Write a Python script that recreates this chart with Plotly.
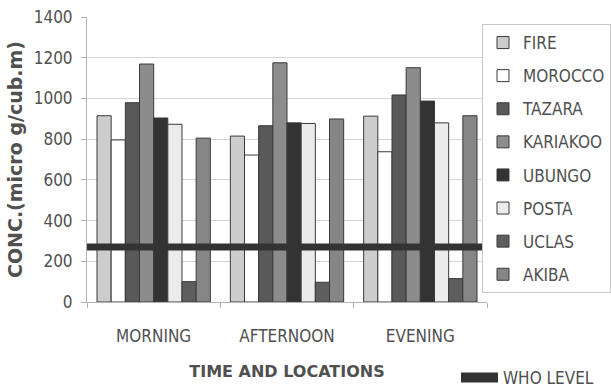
import plotly.graph_objects as go

# Time periods (x categories)
periods = ["MORNING", "AFTERNOON", "EVENING"]

# Concentration per location for MORNING, AFTERNOON, EVENING
fire = [915, 815, 913]
morocco = [796, 722, 738]
tazara = [979, 866, 1017]
kariakoo = [1169, 1175, 1151]
ubungo = [904, 880, 987]
posta = [873, 877, 880]
uclas = [100, 97, 115]
akiba = [805, 899, 915]

who_level = 270

y_ticks = [0, 200, 400, 600, 800, 1000, 1200, 1400]

series = [
    ("FIRE", fire, "#cdcdcd"),
    ("MOROCCO", morocco, "#ffffff"),
    ("TAZARA", tazara, "#595959"),
    ("KARIAKOO", kariakoo, "#8c8c8c"),
    ("UBUNGO", ubungo, "#333333"),
    ("POSTA", posta, "#ebebeb"),
    ("UCLAS", uclas, "#5e5e5e"),
    ("AKIBA", akiba, "#868686"),
]

TEXT = "#505050"
FONT = "DejaVu Sans Condensed"
BOLD = "DejaVu Sans"

W, H = 611, 392
ML, MR, MT, MB = 87, 124, 17, 90
PW, PH = W - ML - MR, H - MT - MB


def px_x(x):
    return (x - ML) / PW


def px_y(y):
    return 1 - (y - MT) / PH


fig = go.Figure()
for name, vals, col in series:
    fig.add_trace(go.Bar(
        x=periods, y=vals, name=name, legendgroup=name,
        marker=dict(color=col, line=dict(color="#3a3a3a", width=1)),
        legend="legend",
    ))

# WHO guideline drawn across the whole plot on a hidden numeric axis
fig.add_trace(go.Scatter(
    x=[0, 1], y=[who_level, who_level], mode="lines",
    line=dict(color="#333333", width=7),
    xaxis="x2", showlegend=False, hoverinfo="skip",
))
# Legend entry for the WHO level
fig.add_trace(go.Scatter(
    x=[None], y=[None], mode="lines", name="WHO LEVEL",
    line=dict(color="#333333", width=12),
    xaxis="x2", legend="legend2",
))

fig.update_layout(
    width=W, height=H,
    margin=dict(l=ML, r=MR, t=MT, b=MB, autoexpand=False),
    paper_bgcolor="white", plot_bgcolor="white",
    font=dict(family=FONT, color=TEXT, size=16),
    barmode="group", bargap=0.15, bargroupgap=0,
    showlegend=True,
    xaxis=dict(
        type="category", showgrid=False,
        showline=True, linecolor="#b4b4b4",
        ticks="outside", tickson="boundaries", ticklen=5, tickcolor="#b4b4b4",
        tickfont=dict(family=FONT, size=17, color=TEXT),
        ticklabelstandoff=19,
        title=dict(text="<b>TIME AND LOCATIONS</b>",
                   font=dict(family=BOLD, size=16, color=TEXT), standoff=20),
    ),
    xaxis2=dict(range=[0, 1], overlaying="x", visible=False, fixedrange=True),
    yaxis=dict(
        range=[0, 1400], tickvals=y_ticks,
        showgrid=True, gridcolor="#d4d4d4", gridwidth=1,
        showline=True, linecolor="#b4b4b4",
        ticks="outside", ticklen=5, tickcolor="#b4b4b4",
        tickfont=dict(family=FONT, size=17, color=TEXT),
        ticklabelstandoff=5,
        zeroline=False,
        title=dict(text="<b>CONC.(micro g/cub.m)</b>",
                   font=dict(family=BOLD, size=19, color=TEXT), standoff=6),
    ),
    legend=dict(
        x=px_x(482), y=px_y(24), xanchor="left", yanchor="top",
        bordercolor="#c8c8c8", borderwidth=1, bgcolor="white",
        font=dict(family=FONT, size=17, color=TEXT),
        itemwidth=30, tracegroupgap=8, traceorder="grouped",
    ),
    legend2=dict(
        x=px_x(456), y=px_y(378), xanchor="left", yanchor="middle",
        bgcolor="rgba(0,0,0,0)", borderwidth=0,
        font=dict(family=FONT, size=17, color=TEXT), itemwidth=37,
    ),
)

fig.write_html("out.html")
